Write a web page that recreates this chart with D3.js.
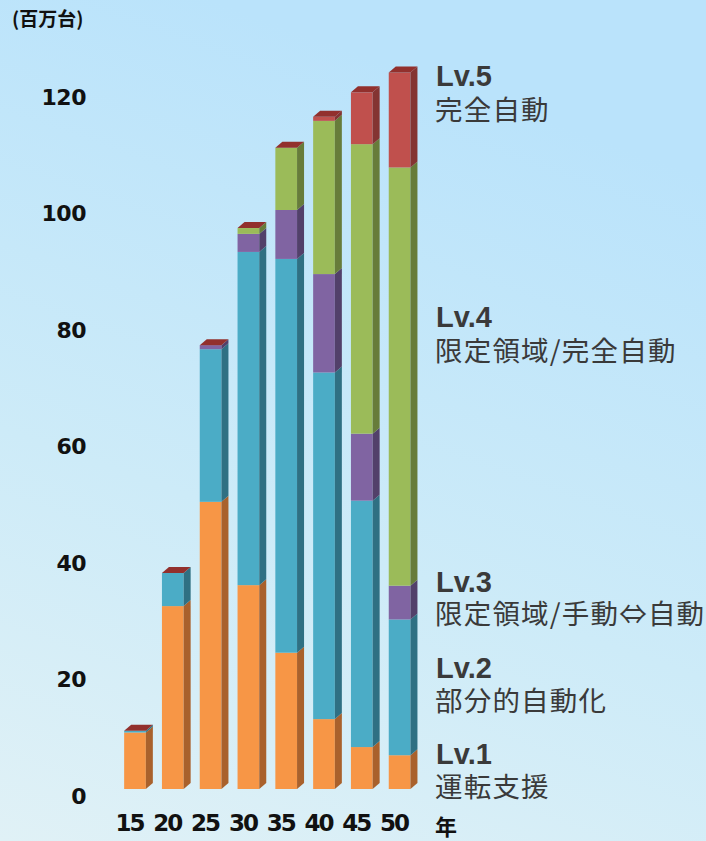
<!DOCTYPE html>
<html>
<head>
<meta charset="utf-8">
<script src="https://cdn.jsdelivr.net/npm/d3@7"></script>
<style>
  html, body { margin: 0; padding: 0; }
  body { width: 706px; height: 841px; overflow: hidden; }
</style>
</head>
<body>
<svg id="chart" width="706" height="841"></svg>
<script>
// Vehicles by automation level (millions of units), years 2015–2050
const years = ["15", "20", "25", "30", "35", "40", "45", "50"];
const lv1 = [9.7, 31.4, 49.3, 35.0, 23.4, 12.0, 7.2, 5.8];
const lv2 = [0.3, 5.7, 26.2, 57.2, 67.6, 59.5, 42.3, 23.3];
const lv3 = [0, 0, 0.7, 3.1, 8.4, 16.9, 11.5, 5.8];
const lv4 = [0, 0, 0, 1.0, 10.7, 26.3, 49.7, 71.8];
const lv5 = [0, 0, 0, 0, 0, 0.7, 8.9, 16.3];
const seriesKeys = ["lv1", "lv2", "lv3", "lv4", "lv5"];
const levelNames = ["Lv.1", "Lv.2", "Lv.3", "Lv.4", "Lv.5"];
const levelDescs = ["運転支援", "部分的自動化", "限定領域/手動⇔自動", "限定領域/完全自動", "完全自動"];
const yTicks = [0, 20, 40, 60, 80, 100, 120];
const unitLabel = "(百万台)";
const yearLabel = "年";

const frontColors = ["#f79646", "#4bacc6", "#8064a2", "#9bbb59", "#c0504d"];
const sideColors  = ["#a9612c", "#2f7083", "#52406a", "#677c3a", "#843432"];
const topColor = "#92302d";

const rows = years.map((yr, i) => ({
  year: yr, lv1: lv1[i], lv2: lv2[i], lv3: lv3[i], lv4: lv4[i], lv5: lv5[i]
}));
const stacked = d3.stack().keys(seriesKeys)(rows);

const svg = d3.select("#chart");

// background wash
const defs = svg.append("defs");
const grad = defs.append("linearGradient").attr("id", "bg")
  .attr("x1", 0.3).attr("y1", 0).attr("x2", 0).attr("y2", 1);
grad.append("stop").attr("offset", "0%").attr("stop-color", "#bae3fb");
grad.append("stop").attr("offset", "55%").attr("stop-color", "#cdebf8");
grad.append("stop").attr("offset", "100%").attr("stop-color", "#e0f1f6");
svg.append("rect").attr("width", 706).attr("height", 841).attr("fill", "url(#bg)");

const x = d3.scalePoint().domain(years).range([135, 399.6]);
const y = d3.scaleLinear().domain([0, 120]).range([789, 90]);
const barW = 21.7, depthX = 7, depthY = -6;

// bars: front face + slanted side face per segment, then a top cap
const barG = svg.append("g");
years.forEach((yr, i) => {
  const x0 = x(yr) - barW / 2, x1 = x0 + barW;
  const g = barG.append("g");
  stacked.forEach((s, k) => {
    const [v0, v1] = s[i];
    if (v1 - v0 <= 0) return;
    const yb = y(v0), yt = y(v1);
    g.append("rect")
      .attr("x", x0).attr("y", yt).attr("width", barW).attr("height", yb - yt)
      .attr("fill", frontColors[k]);
    g.append("path")
      .attr("d", `M${x1},${yt}L${x1 + depthX},${yt + depthY}L${x1 + depthX},${yb + depthY}L${x1},${yb}Z`)
      .attr("fill", sideColors[k]);
  });
  const total = stacked[stacked.length - 1][i][1];
  const yt = y(total);
  g.append("path")
    .attr("d", `M${x0},${yt}L${x1},${yt}L${x1 + depthX},${yt + depthY}L${x0 + depthX},${yt + depthY}Z`)
    .attr("fill", topColor);
});

// value axis
const yAxis = svg.append("g").attr("transform", "translate(86,7)")
  .call(d3.axisLeft(y).tickValues(yTicks).tickSize(0).tickPadding(0).tickFormat(d3.format("d")));
yAxis.select(".domain").remove();
yAxis.selectAll("text")
  .attr("font-family", "DejaVu Sans, Verdana, sans-serif")
  .attr("font-weight", "bold").attr("font-size", 22).attr("fill", "#111")
  .attr("letter-spacing", -0.5);

// year axis
const xAxis = svg.append("g").attr("transform", "translate(-6,815)")
  .call(d3.axisBottom(x).tickSize(0).tickPadding(0));
xAxis.select(".domain").remove();
xAxis.selectAll("text")
  .attr("font-family", "DejaVu Sans, Verdana, sans-serif")
  .attr("font-weight", "bold").attr("font-size", 23).attr("fill", "#111")
  .attr("letter-spacing", -2);

svg.append("text").attr("x", 446).attr("y", 835).attr("text-anchor", "middle")
  .attr("font-family", "Noto Sans CJK JP, sans-serif").attr("font-weight", "bold")
  .attr("font-size", 22).attr("fill", "#111").text(yearLabel);

svg.append("text").attr("x", 12).attr("y", 26)
  .attr("font-family", "Noto Sans CJK JP, sans-serif").attr("font-weight", "bold")
  .attr("font-size", 19).attr("fill", "#111").text(unitLabel);

// level annotations on the right
const namePos = [764, 678, 592, 327, 86];
const descPos = [797, 711, 624, 361, 120];
const legend = svg.append("g");
levelNames.forEach((n, k) => {
  legend.append("text").attr("x", 436).attr("y", namePos[k])
    .attr("font-family", "Liberation Sans, Arial, sans-serif").attr("font-weight", "bold")
    .attr("font-size", 29).attr("fill", "#3a3a3a").text(n);
  legend.append("text").attr("x", 435).attr("y", descPos[k])
    .attr("font-family", "Noto Sans CJK JP, sans-serif")
    .attr("font-size", 27.5).attr("letter-spacing", 1.2)
    .attr("fill", "#3a3a3a").text(levelDescs[k]);
});
</script>
</body>
</html>
